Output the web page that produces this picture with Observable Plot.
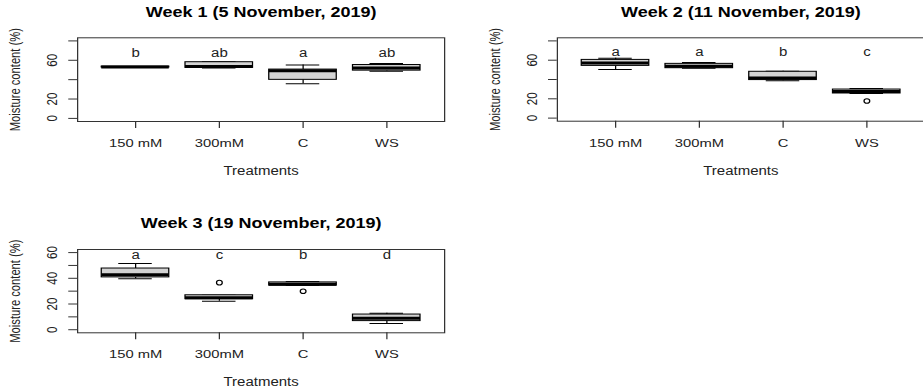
<!DOCTYPE html>
<html>
<head>
<meta charset="utf-8">
<script src="https://cdn.jsdelivr.net/npm/d3@7"></script>
<script src="https://cdn.jsdelivr.net/npm/@observablehq/plot@0.6"></script>
<style>
  html, body { margin: 0; padding: 0; background: #fff; }
  #chart { position: relative; width: 923px; height: 390px; overflow: hidden; background: #fff; }
  #chart svg { position: absolute; overflow: visible; font-family: "Liberation Sans", Arial, sans-serif; }
</style>
</head>
<body>
<div id="chart"></div>
<script>
// Treatments on the x axis
const treatments = ["150 mM", "300mM", "C", "WS"];

// Week 1 (5 November 2019): box-plot statistics per treatment
const week1Lower  = [52.5, 52.1, 35.7, 48.6];
const week1Q1     = [52.5, 52.1, 39.8, 49.3];
const week1Median = [53.0, 53.5, 49.3, 52.1];
const week1Q3     = [53.5, 58.0, 50.4, 55.1];
const week1Upper  = [53.5, 58.5, 55.1, 56.8];
const week1OutlierTreatment = [];
const week1OutlierValue = [];
const week1Letters = ["b", "ab", "a", "ab"];

// Week 2 (11 November 2019)
const week2Lower  = [50.4, 51.7, 38.8, 25.5];
const week2Q1     = [54.1, 51.7, 39.4, 25.5];
const week2Median = [57.2, 53.7, 41.5, 27.6];
const week2Q3     = [60.3, 56.2, 48.0, 29.6];
const week2Upper  = [61.9, 57.5, 48.6, 30.6];
const week2OutlierTreatment = ["WS"];
const week2OutlierValue = [17.7];
const week2Letters = ["a", "a", "b", "c"];

// Week 3 (19 November 2019)
const week3Lower  = [39.7, 22.1, 34.3, 4.9];
const week3Q1     = [40.7, 23.7, 34.3, 6.7];
const week3Median = [42.8, 24.9, 35.3, 9.0];
const week3Q3     = [47.6, 26.8, 36.8, 11.8];
const week3Upper  = [51.5, 26.8, 37.6, 12.8];
const week3OutlierTreatment = ["300mM", "C"];
const week3OutlierValue = [36.6, 29.9];
const week3Letters = ["a", "c", "b", "d"];

// Y axis ticks (all ticks, and the ones that carry a label)
const yTicksWeeks12 = [0, 20, 40, 60, 80];
const yLabelsWeeks12 = [0, 20, 60];
const yTicksWeek3 = [0, 10, 20, 30, 40, 50, 60];
const yLabelsWeek3 = [0, 20, 40, 60];

const ink = "#222";
// The figure is drawn wider than tall: each panel is laid out at its own
// width and then stretched horizontally by this factor.
const stretch = 1.25;

function boxPanel(o) {
  const rows = treatments.map((t, i) => ({
    treatment: t, lower: o.lower[i], q1: o.q1[i], median: o.median[i],
    q3: o.q3[i], upper: o.upper[i], letter: o.letters[i]
  }));
  const outliers = o.outlierTreatment.map((t, i) => ({treatment: t, value: o.outlierValue[i]}));
  const svg = Plot.plot({
    width: o.width, height: o.height,
    marginLeft: o.marginLeft, marginRight: o.marginRight,
    marginTop: o.marginTop, marginBottom: o.marginBottom,
    style: {color: ink, fontFamily: "Liberation Sans, Arial, sans-serif", background: "transparent"},
    x: {type: "band", domain: treatments, paddingInner: 0.2, paddingOuter: 0.259, axis: null},
    y: {domain: o.yDomain, axis: null},
    marks: [
      Plot.frame({stroke: "#333", strokeWidth: 1}),
      Plot.axisY({ticks: o.yTicks, tickSize: 7, tickFormat: () => "", stroke: "#333", label: null}),
      Plot.text(o.yLabels, {y: d => d, text: d => String(d), frameAnchor: "left", dx: -20, rotate: -90,
        textAnchor: "middle", lineAnchor: "middle", fontSize: 11.5, fill: ink}),
      Plot.axisX({tickSize: 7, tickPadding: 10, fontSize: 11.8, stroke: "#333", label: null}),
      // whiskers
      Plot.ruleX(rows, {x: "treatment", y1: "q3", y2: "upper", stroke: "#000"}),
      Plot.ruleX(rows, {x: "treatment", y1: "lower", y2: "q1", stroke: "#000"}),
      // staples
      Plot.tickY(rows, {x: "treatment", y: "upper", insetLeft: 13.6, insetRight: 13.6, stroke: "#000"}),
      Plot.tickY(rows, {x: "treatment", y: "lower", insetLeft: 13.6, insetRight: 13.6, stroke: "#000"}),
      // boxes and medians
      Plot.barY(rows, {x: "treatment", y1: "q1", y2: "q3", fill: "#d3d3d3", stroke: "#000", strokeWidth: 1}),
      Plot.tickY(rows, {x: "treatment", y: "median", stroke: "#000", strokeWidth: 3}),
      // outliers
      Plot.dot(outliers, {x: "treatment", y: "value", r: 2.3, stroke: "#000", strokeWidth: 1, fill: "none"}),
      // significance letters
      Plot.text(rows, {x: "treatment", text: "letter", frameAnchor: "top", lineAnchor: "middle",
        dy: o.letterDy, fontSize: 12, fill: ink}),
      // titles
      Plot.text([o.title], {frameAnchor: "top", lineAnchor: "middle", dy: -25.8, fontSize: 14.4,
        fontWeight: "bold", fill: "#000"}),
      Plot.text(["Moisture content (%)"], {frameAnchor: "left", dx: -49.6, rotate: -90,
        textAnchor: "middle", lineAnchor: "middle", fontSize: 11.2, fill: ink}),
      Plot.text(["Treatments"], {frameAnchor: "bottom", lineAnchor: "middle", dy: 49.5, fontSize: 12, fill: ink})
    ]
  });
  // stretch horizontally
  svg.setAttribute("preserveAspectRatio", "none");
  svg.setAttribute("width", o.width * stretch);
  svg.style.width = (o.width * stretch) + "px";
  svg.style.height = o.height + "px";
  svg.style.maxWidth = "none";
  svg.style.left = o.left + "px";
  svg.style.top = o.top + "px";
  return svg;
}

const chart = document.getElementById("chart");

chart.appendChild(boxPanel({
  title: "Week 1 (5 November, 2019)",
  lower: week1Lower, q1: week1Q1, median: week1Median, q3: week1Q3, upper: week1Upper,
  outlierTreatment: week1OutlierTreatment, outlierValue: week1OutlierValue, letters: week1Letters,
  yDomain: [-3.2, 83.2], yTicks: yTicksWeeks12, yLabels: yLabelsWeeks12,
  left: 0, top: 0, width: 368, height: 195,
  marginLeft: 61.6, marginRight: 12.8, marginTop: 37.3, marginBottom: 74, letterDy: 15.6
}));

chart.appendChild(boxPanel({
  title: "Week 2 (11 November, 2019)",
  lower: week2Lower, q1: week2Q1, median: week2Median, q3: week2Q3, upper: week2Upper,
  outlierTreatment: week2OutlierTreatment, outlierValue: week2OutlierValue, letters: week2Letters,
  yDomain: [-3.2, 83.2], yTicks: yTicksWeeks12, yLabels: yLabelsWeeks12,
  left: 460, top: 0, width: 376, height: 195,
  marginLeft: 77.4, marginRight: 5, marginTop: 37.3, marginBottom: 74.3, letterDy: 14
}));

chart.appendChild(boxPanel({
  title: "Week 3 (19 November, 2019)",
  lower: week3Lower, q1: week3Q1, median: week3Median, q3: week3Q3, upper: week3Upper,
  outlierTreatment: week3OutlierTreatment, outlierValue: week3OutlierValue, letters: week3Letters,
  yDomain: [-2.4, 62.4], yTicks: yTicksWeek3, yLabels: yLabelsWeek3,
  left: 0, top: 195, width: 368, height: 195,
  marginLeft: 61.6, marginRight: 12.8, marginTop: 54, marginBottom: 57.7, letterDy: 5.5
}));
</script>
</body>
</html>
